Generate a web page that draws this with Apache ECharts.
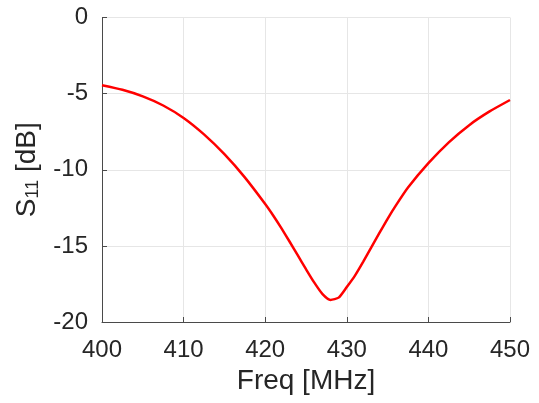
<!DOCTYPE html>
<html>
<head>
<meta charset="utf-8">
<script src="https://cdn.jsdelivr.net/npm/echarts@6/dist/echarts.min.js"></script>
<style>
  html, body { margin: 0; padding: 0; background: #fff; }
  #main { width: 539px; height: 403px; }
</style>
</head>
<body>
<div id="main"></div>
<script>
// frequency [MHz] and S11 [dB]
var freq = [400, 402.5, 405, 407.5, 410, 412.5, 415, 417.5, 420, 421, 422, 423, 424, 425,
  426, 427, 428, 429, 430, 431, 432, 433, 434, 435, 436, 437.5, 440, 442.5, 445, 447.5, 450];
var s11 = [-4.45, -4.75, -5.18, -5.78, -6.6, -7.68, -8.98, -10.5, -12.25, -13.02, -13.85, -14.73, -15.63, -16.53,
  -17.4, -18.15, -18.55, -18.4, -17.7, -16.95, -16.05, -15.1, -14.15, -13.22, -12.36, -11.17, -9.57, -8.2, -7.07, -6.17, -5.42];

var points = [];
for (var i = 0; i < freq.length; i++) {
  points.push([freq[i], s11[i]]);
}

var txt = "#262626";
var font = "Liberation Sans";

var myChart = echarts.init(document.getElementById("main"), null, { renderer: "canvas" });

var option = {
  animation: false,
  grid: { left: 102, right: 29, top: 17.5, bottom: 81 },
  xAxis: {
    type: "value",
    min: 400,
    max: 450,
    interval: 10,
    name: "Freq [MHz]",
    nameLocation: "middle",
    nameGap: 42,
    nameTextStyle: { color: txt, fontSize: 28, fontFamily: font },
    axisLine: { onZero: false, lineStyle: { color: "#4a4a4a", width: 1 } },
    axisTick: { inside: true, length: 5, lineStyle: { color: "#4a4a4a" } },
    axisLabel: { color: txt, fontSize: 24, fontFamily: font, margin: 16 },
    splitLine: { show: true, lineStyle: { color: "#e6e6e6", width: 1 } },
  },
  yAxis: {
    type: "value",
    min: -20,
    max: 0,
    interval: 5,
    name: "{a|S}{b|11}{a| [dB]}",
    nameLocation: "middle",
    nameGap: 49,
    nameTextStyle: {
      color: txt,
      fontFamily: font,
      rich: {
        a: { fontSize: 28, color: txt, fontFamily: font },
        b: { fontSize: 18, color: txt, fontFamily: font, padding: [12, 0, 0, 0] },
      },
    },
    axisLine: { show: true, onZero: false, lineStyle: { color: "#4a4a4a", width: 1 } },
    axisTick: { show: true, inside: true, length: 5, lineStyle: { color: "#4a4a4a" } },
    axisLabel: { color: txt, fontSize: 24, fontFamily: font, margin: 14 },
    splitLine: { show: true, lineStyle: { color: "#e6e6e6", width: 1 } },
  },
  series: [
    {
      type: "line",
      data: points,
      showSymbol: false,
      smooth: 0.2,
      lineStyle: { color: "#ff0000", width: 2.5 },
    },
  ],
};

myChart.setOption(option);
</script>
</body>
</html>
